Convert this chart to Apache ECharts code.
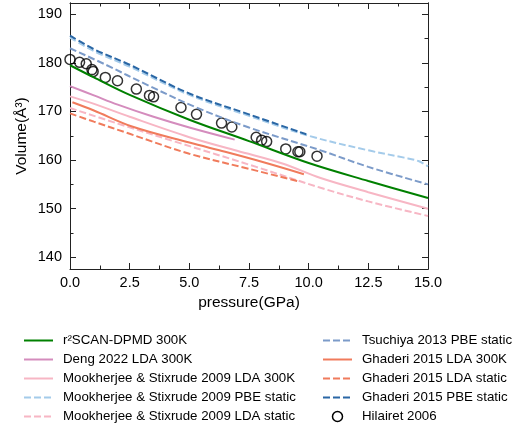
<!DOCTYPE html>
<html><head><meta charset="utf-8">
<script src="https://cdn.jsdelivr.net/npm/echarts@6/dist/echarts.min.js"></script>
<style>html,body{margin:0;padding:0;background:#fff}#c{width:512px;height:430px}</style>
</head><body><div id="c"></div>
<script>
// ---- data (pressure GPa, volume Å^3) ----
const pGreen = [0, 1, 2.5, 5, 7.5, 10, 12.5, 15];
const vGreen = [179.5, 177.0, 173.4, 168.3, 163.9, 159.4, 155.7, 152.2];
const pDeng = [0, 1, 2, 3.5, 5, 6.9];
const vDeng = [175.2, 173.3, 171.4, 168.9, 166.7, 164.2];
const pMookLDA300 = [0, 1.1, 2.5, 5, 7, 8.9, 10.5, 12.5, 15];
const vMookLDA300 = [173.1, 171.4, 168.9, 164.7, 161.9, 159.3, 156.3, 153.4, 150.0];
const pMookPBE = [0, 1, 2.5, 5, 7.5, 10, 12.5, 14, 14.6, 15];
const vMookPBE = [185.2, 182.4, 179.2, 173.4, 169.1, 165.0, 162.0, 160.5, 159.8, 158.7];
const pMookLDAst = [0, 2, 4.4, 7.8, 10.5, 12.5, 15];
const vMookLDAst = [170.7, 167.5, 163.8, 158.6, 154.3, 151.5, 148.5];
const pTsu = [0, 1.5, 3.3, 5.3, 7.5, 10.5, 12.5, 15];
const vTsu = [183.0, 179.6, 175.3, 170.8, 166.7, 162.0, 158.6, 155.0];
const pGhLDA300 = [0.1, 1, 2.6, 5, 6.5, 8, 9.8];
const vGhLDA300 = [171.9, 170.2, 166.9, 163.6, 161.7, 159.7, 157.1];
const pGhLDAst = [0, 1, 2.5, 5, 7.5, 9.6];
const vGhLDAst = [169.6, 167.9, 165.4, 161.3, 158.2, 155.6];
const pGhPBE = [0, 1, 2.5, 5, 7.5, 9.9];
const vGhPBE = [185.6, 182.8, 179.6, 173.7, 169.4, 165.3];
const pHil = [0, 0.4, 0.68, 0.92, 0.97, 1.48, 1.99, 2.78, 3.33, 3.5, 4.65, 5.3, 6.35, 6.78, 7.8, 8.03, 8.24, 9.04, 9.55, 9.63, 10.35];
const vHil = [180.7, 180.1, 179.8, 178.6, 178.2, 177.0, 176.3, 174.6, 173.3, 173.0, 170.8, 169.4, 167.6, 166.8, 164.7, 164.1, 163.8, 162.3, 161.7, 161.7, 160.8];
const yMajor = [140, 150, 160, 170, 180, 190];
const yMinor = [145, 155, 165, 175, 185];

const zip = (a, b) => a.map((x, i) => [x, b[i]]);
const FONT = '"Liberation Sans", Arial, sans-serif';
const AX = '#222';

function line(name, p, v, color, dashed) {
  return {
    name, type: 'line', data: zip(p, v), symbol: 'none', showSymbol: false, smooth: 0.35,
    xAxisIndex: 0, yAxisIndex: 0,
    lineStyle: { color, width: 2, type: dashed ? [7, 3] : 'solid' },
    itemStyle: { color }, emphasis: { disabled: true }
  };
}

const series = [
  line('r²SCAN-DPMD 300K', pGreen, vGreen, '#008000', false),
  line('Deng 2022 LDA 300K', pDeng, vDeng, '#d48cbd', false),
  line('Mookherjee & Stixrude 2009 LDA 300K', pMookLDA300, vMookLDA300, '#f7b6c4', false),
  line('Mookherjee & Stixrude 2009 PBE static', pMookPBE, vMookPBE, '#a4cbea', true),
  line('Mookherjee & Stixrude 2009 LDA static', pMookLDAst, vMookLDAst, '#f7b6c4', true),
  line('Tsuchiya 2013 PBE static', pTsu, vTsu, '#7c9bc9', true),
  line('Ghaderi 2015 LDA 300K', pGhLDA300, vGhLDA300, '#f07b5c', false),
  line('Ghaderi 2015 LDA static', pGhLDAst, vGhLDAst, '#f07b5c', true),
  line('Ghaderi 2015 PBE static', pGhPBE, vGhPBE, '#2a67a5', true),
  {
    name: 'Hilairet 2006', type: 'scatter', data: zip(pHil, vHil), symbol: 'circle', symbolSize: 10,
    xAxisIndex: 0, yAxisIndex: 0,
    itemStyle: { color: 'rgba(0,0,0,0)', borderColor: '#000', borderWidth: 1.5 }, emphasis: { disabled: true }
  }
];

function xAx(pos, labels) {
  return {
    type: 'value', position: pos, min: 0, max: 15, interval: 2.5,
    name: labels ? 'pressure(GPa)' : '', nameLocation: 'middle', nameGap: 24,
    nameTextStyle: { fontFamily: FONT, fontSize: 15.5, color: '#000' },
    axisLine: { show: true, onZero: false, lineStyle: { color: AX, width: 1 } },
    axisTick: { show: true, inside: true, length: 6, lineStyle: { color: AX, width: 1 } },
    minorTick: { show: true, splitNumber: 2, length: 3.5, lineStyle: { color: AX, width: 1 } },
    axisLabel: { show: labels, margin: 6, fontFamily: FONT, fontSize: 14.5, color: '#000',
      formatter: v => v.toFixed(1) },
    splitLine: { show: false }
  };
}
function yAx(pos, vals, len, labels, name) {
  return {
    type: 'value', position: pos, min: 137.6, max: 192.3,
    name: name || '', nameLocation: 'middle', nameGap: 40, nameMoveOverlap: false,
    nameTextStyle: { fontFamily: FONT, fontSize: 15.5, color: '#000' },
    axisLine: { show: true, onZero: false, lineStyle: { color: AX, width: 1 } },
    axisTick: { show: true, inside: true, length: len, customValues: vals, lineStyle: { color: AX, width: 1 } },
    axisLabel: { show: labels, customValues: vals, margin: 8, fontFamily: FONT, fontSize: 14.5, color: '#000' },
    splitLine: { show: false }
  };
}

const legBase = {
  orient: 'vertical', itemWidth: 29, itemHeight: 10, itemGap: 6, padding: 0,
  textStyle: { fontFamily: FONT, fontSize: 13.3, color: '#000', padding: [0, 0, 0, 5] },
  itemStyle: { opacity: 0 },
  selectedMode: false
};

const leftNames = series.slice(0, 5).map(s => s.name);
const rightNames = series.slice(5).map(s => s.name === 'Hilairet 2006'
  ? { name: s.name, icon: 'circle', itemStyle: { opacity: 1, color: 'rgba(0,0,0,0)', borderColor: '#000', borderWidth: 1.5 } }
  : s.name);

const option = {
  animation: false,
  grid: { left: 70, right: 84, top: 3, bottom: 161 },
  xAxis: [xAx('bottom', true), xAx('top', false)],
  yAxis: [
    yAx('left', yMajor, 6, true, 'Volume(Å³)'),
    yAx('left', yMinor, 3.5, false),
    yAx('right', yMajor, 6, false),
    yAx('right', yMinor, 3.5, false)
  ],
  legend: [
    Object.assign({}, legBase, { left: 23, top: 334, data: leftNames }),
    Object.assign({}, legBase, { left: 322, top: 334, data: rightNames })
  ],
  series
};
echarts.init(document.getElementById('c'), null, { renderer: 'canvas' }).setOption(option);
</script></body></html>
